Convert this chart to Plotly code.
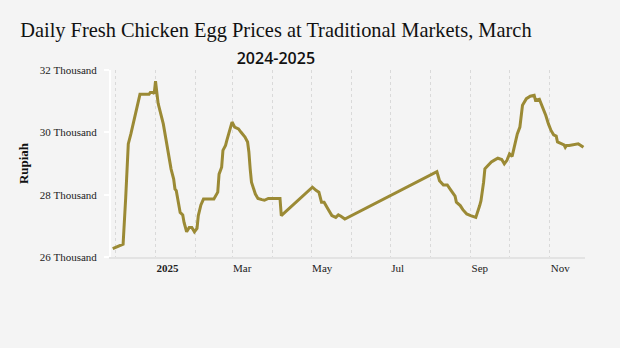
import plotly.graph_objects as go

dates = [
    "2024-11-29", "2024-12-06", "2024-12-07", "2024-12-09", "2024-12-11", "2024-12-13",
    "2024-12-16", "2024-12-17", "2024-12-18", "2024-12-20", "2024-12-27", "2024-12-28",
    "2024-12-30", "2024-12-31", "2025-01-01", "2025-01-02", "2025-01-03", "2025-01-05",
    "2025-01-07", "2025-01-09", "2025-01-11", "2025-01-13", "2025-01-15", "2025-01-16",
    "2025-01-17", "2025-01-18", "2025-01-20", "2025-01-22", "2025-01-23", "2025-01-25",
    "2025-01-27", "2025-01-29", "2025-01-31", "2025-02-02", "2025-02-03", "2025-02-05",
    "2025-02-07", "2025-02-15", "2025-02-17", "2025-02-18", "2025-02-19", "2025-02-21",
    "2025-02-22", "2025-02-24", "2025-02-25", "2025-02-27", "2025-02-28", "2025-03-01",
    "2025-03-03", "2025-03-06", "2025-03-08", "2025-03-11", "2025-03-13", "2025-03-14",
    "2025-03-15", "2025-03-16", "2025-03-19", "2025-03-21", "2025-03-24", "2025-03-26",
    "2025-03-29", "2025-04-07", "2025-04-08", "2025-05-02", "2025-05-05", "2025-05-07",
    "2025-05-09", "2025-05-11", "2025-05-14", "2025-05-17", "2025-05-20", "2025-05-22",
    "2025-05-24", "2025-05-27", "2025-08-06", "2025-08-08", "2025-08-11", "2025-08-14",
    "2025-08-17", "2025-08-20", "2025-08-21", "2025-08-24", "2025-08-26", "2025-08-29",
    "2025-09-01", "2025-09-05", "2025-09-08", "2025-09-09", "2025-09-11", "2025-09-12",
    "2025-09-14", "2025-09-17", "2025-09-19", "2025-09-22", "2025-09-25", "2025-09-27",
    "2025-09-29", "2025-10-01", "2025-10-03", "2025-10-05", "2025-10-07", "2025-10-09",
    "2025-10-10", "2025-10-11", "2025-10-14", "2025-10-17", "2025-10-20", "2025-10-21",
    "2025-10-24", "2025-10-26", "2025-10-29", "2025-10-31", "2025-11-02", "2025-11-04",
    "2025-11-06", "2025-11-07", "2025-11-10", "2025-11-12", "2025-11-13", "2025-11-14",
    "2025-11-16", "2025-11-21", "2025-11-23", "2025-11-25", "2025-11-27",
]

prices = [
    26270, 26380, 26410, 27900, 29630, 29950,
    30490, 30760, 30890, 31220, 31220, 31280,
    31280, 31240, 31640, 31200, 30930, 30600,
    30270, 29790, 29250, 28820, 28500, 28180,
    28130, 27860, 27430, 27350, 27110, 26810,
    26950, 26950, 26810, 26920, 27330, 27670,
    27860, 27860, 27990, 28080, 28660, 28880,
    29420, 29580, 29740, 30060, 30170, 30330,
    30170, 30110, 30000, 29850, 29690, 29370,
    28830, 28400, 28020, 27880, 27840, 27820,
    27880, 27880, 27330, 28240, 28130, 28080,
    27760, 27760, 27540, 27330, 27270, 27350,
    27310, 27220, 28740, 28450, 28310, 28310,
    28130, 27950, 27760, 27650, 27520, 27380,
    27330, 27270, 27650, 27810, 28400, 28830,
    28920, 29050, 29100, 29170, 29130, 28990,
    29100, 29310, 29230, 29550, 29950, 30170,
    30600, 30870, 31080, 31160, 31190, 31030,
    31060, 30870, 30540, 30270, 30060, 29920,
    29880, 29690, 29630, 29600, 29520, 29580,
    29580, 29600, 29630, 29580, 29520,
]

x_tick_vals = ["2025-01-01", "2025-03-01", "2025-05-01", "2025-07-01", "2025-09-01", "2025-11-01"]
x_tick_text = ["<b>2025</b>", "Mar", "May", "Jul", "Sep", "Nov"]
y_tick_vals = [26000, 28000, 30000, 32000]
y_tick_text = ["26 Thousand", "28 Thousand", "30 Thousand", "32 Thousand"]

title_line1 = "Daily Fresh Chicken Egg Prices at Traditional Markets, March"
title_line2 = "2024-2025"

BG = "#f4f4f4"
LINE = "#9b8a35"
SERIF = "Liberation Serif"
GRID = "#d9d9d9"

fig = go.Figure()
fig.add_trace(go.Scatter(
    x=dates, y=prices, mode="lines",
    line=dict(color=LINE, width=3),
    hoverinfo="x+y", showlegend=False,
))

fig.update_layout(
    width=620, height=348,
    paper_bgcolor=BG, plot_bgcolor=BG,
    margin=dict(l=111, r=35, t=70, b=91),
    title=dict(
        text=title_line1 + "<br><span style='font-family:Open Sans;font-weight:600;font-size:16px'>"
             + title_line2 + "</span>",
        x=0.445, xanchor="center", xref="container",
        y=0.893, yanchor="top", yref="container",
        font=dict(family=SERIF, size=20.4, color="#111111"),
    ),
    xaxis=dict(
        type="date",
        range=["2024-11-27 16:00", "2025-11-28 05:00"],
        tickmode="array", tickvals=x_tick_vals, ticktext=x_tick_text,
        ticklabelposition="outside right",
        showgrid=True, gridcolor=GRID, griddash="dot", gridwidth=1,
        minor=dict(tickmode="linear", tick0="2024-12-01", dtick="M1",
                   showgrid=True, gridcolor=GRID, griddash="dot", gridwidth=1),
        showline=True, linecolor="#e3e3e3", linewidth=2,
        ticks="", zeroline=False,
        tickfont=dict(family=SERIF, size=11, color="#222222"),
    ),
    yaxis=dict(
        range=[26000, 32000],
        tickmode="array", tickvals=y_tick_vals, ticktext=y_tick_text,
        showgrid=False, zeroline=False,
        showline=True, linecolor="#ffffff", linewidth=2,
        ticks="outside", ticklen=5, tickcolor="#ffffff", tickwidth=2,
        ticklabelstandoff=5,
        tickfont=dict(family=SERIF, size=11, color="#222222"),
        title=dict(text="<b>Rupiah</b>", font=dict(family=SERIF, size=13, color="#111111"),
                   standoff=8),
    ),
)

fig.write_html("out.html")
